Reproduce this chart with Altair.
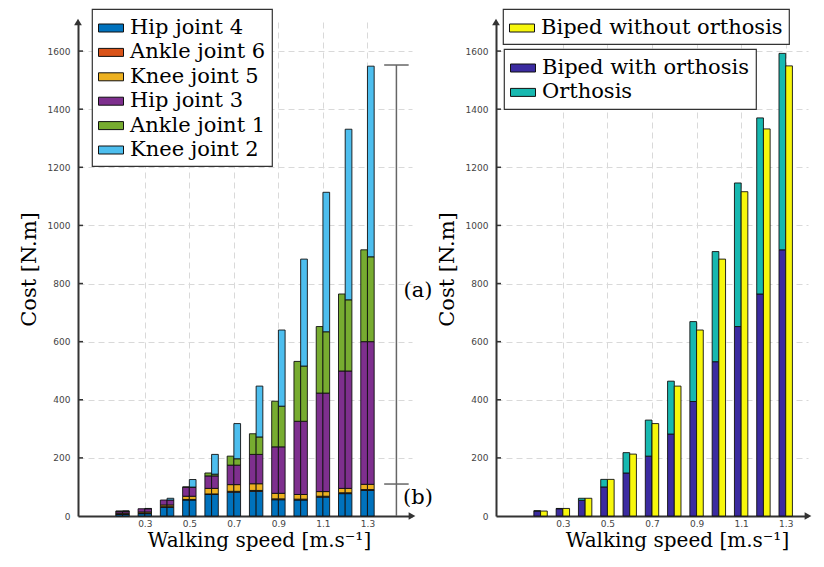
import altair as alt
import pandas as pd

# ---------------- data ----------------
speeds = [0.2, 0.3, 0.4, 0.5, 0.6, 0.7, 0.8, 0.9, 1.0, 1.1, 1.2, 1.3]

joints = ["Hip joint 4", "Ankle joint 6", "Knee joint 5", "Hip joint 3", "Ankle joint 1", "Knee joint 2"]
joint_colors = ["#0072BD", "#D95319", "#EDB120", "#7E2F8E", "#77AC30", "#4DBEEE"]

hip4 = [5, 8, 30, 55, 74, 82, 85, 56, 55, 65, 77, 88]
ankle6 = [2, 2, 2, 2, 2, 3, 3, 3, 3, 3, 3, 3]
knee5 = [3, 4, 6, 11, 19, 23, 23, 19, 16, 16, 15, 18]
hip3 = [6, 11, 17, 31, 43, 67, 101, 160, 252, 339, 404, 491]
# left bar of each pair (biped with orthosis)
ankle1_with = [1, 0, 0, 1, 10, 31, 71, 157, 206, 229, 265, 316]
knee2_with = [0, 0, 0, 0, 0, 0, 0, 0, 0, 0, 0, 0]
# right bar of each pair (biped without orthosis)
ankle1_without = [0.5, 0, 0, 0.5, 6, 22, 60, 140, 190, 211, 245, 292]
knee2_without = [0.5, 1, 6, 26, 68, 121, 175, 262, 368, 480, 587, 656]

parts_right = ["Biped with orthosis", "Orthosis"]
parts_right_colors = ["#3B2BA0", "#17B8B0"]
biped_with = [17, 25, 54, 100, 148, 206, 282, 394, 531, 652, 764, 916]
orthosis = [1, 1, 7, 26, 70, 124, 182, 275, 379, 494, 606, 676]
without_name = "Biped without orthosis"
without_color = "#F7F70C"
biped_without = [17, 26, 61, 126, 213, 318, 447, 640, 884, 1116, 1332, 1549]

x_tick_values = [0.3, 0.5, 0.7, 0.9, 1.1, 1.3]
y_tick_values = [0, 200, 400, 600, 800, 1000, 1200, 1400, 1600]
y_max = 1700

# bracket annotation of the left panel
bracket_x = 1.43
bracket_tick_x = [1.375, 1.485]
bracket_levels = [1552, 110]
bracket_labels = ["(a)", "(b)"]
bracket_label_x = 1.527
bracket_label_y = [774, 62]

SERIF = "DejaVu Serif"
SANS = "DejaVu Sans"
X_TITLE = "Walking speed [m.s\u207b\u00b9]"
Y_TITLE = "Cost [N.m]"
LEG_SYMBOL = "M-1,-0.32H1V0.32H-1Z"

# ---------------- tables ----------------
rows = []
for i, s in enumerate(speeds):
    for bar, a1, k2 in (("with", ankle1_with[i], knee2_with[i]),
                        ("without", ankle1_without[i], knee2_without[i])):
        vals = [hip4[i], ankle6[i], knee5[i], hip3[i], a1, k2]
        for j, (name, v) in enumerate(zip(joints, vals)):
            if v > 0:
                rows.append(dict(speed=s, joint=name, value=v, ord=j, bar=bar))
left_df = pd.DataFrame(rows)

rrows = []
for i, s in enumerate(speeds):
    rrows.append(dict(speed=s, part=parts_right[0], value=biped_with[i], ord=0))
    rrows.append(dict(speed=s, part=parts_right[1], value=orthosis[i], ord=1))
right_df = pd.DataFrame(rrows)
yellow_df = pd.DataFrame(dict(speed=speeds, part2=[without_name] * len(speeds), value=biped_without))


def xenc(field, xmax):
    return alt.X(f"{field}:Q",
                 scale=alt.Scale(domain=[0, xmax], nice=False, zero=False, padding=0),
                 axis=alt.Axis(values=x_tick_values, format=".1f", title=X_TITLE,
                               titleX=181, titleAlign="center", labelPadding=3,
                               titlePadding=2, titleFontSize=20, gridDash=[6, 4]))


def yenc(field, stack=None):
    kw = {}
    if stack is not None:
        kw["stack"] = stack
    return alt.Y(f"{field}:Q",
                 scale=alt.Scale(domain=[0, y_max], nice=False, padding=0),
                 axis=alt.Axis(values=y_tick_values, format="d", title=Y_TITLE, labelPadding=8,
                               titlePadding=8, gridDash=[6, 4]),
                 **kw)


def legend(x, y):
    return alt.Legend(title=None, orient="none", legendX=x, legendY=y, direction="vertical",
                      symbolType=LEG_SYMBOL, symbolSize=625, symbolStrokeColor="#111",
                      symbolStrokeWidth=1, labelFont=SERIF, labelFontSize=21,
                      labelColor="black", labelOffset=6, padding=6, rowPadding=1.4,
                      strokeColor="#333", fillColor="white", labelLimit=500)


def decorations(xmax):
    arrows_y = pd.DataFrame(dict(ax=[0], ay=[y_max]))
    arrows_x = pd.DataFrame(dict(ax=[xmax], ay=[0]))
    up = alt.Chart(arrows_y).mark_point(shape="triangle-up", filled=True, size=60,
                                        color="#333", opacity=1).encode(
        x=xenc("ax", xmax), y=yenc("ay"))
    rt = alt.Chart(arrows_x).mark_point(shape="triangle-right", filled=True, size=60,
                                        color="#333", opacity=1).encode(
        x=xenc("ax", xmax), y=yenc("ay"))
    ticks = alt.Chart(pd.DataFrame(dict(yt=y_tick_values[1:]))).mark_rule(
        color="#333", strokeWidth=1.5).encode(
        y=yenc("yt"), x=alt.value(0), x2=alt.value(5))
    return [ticks, up, rt]


BAR_W = 6.7
bar_style = dict(size=BAR_W, stroke="#111", strokeWidth=0.9)

# ---------------- left panel ----------------
XMAX_L = 1.5
color_left = alt.Color("joint:N", scale=alt.Scale(domain=joints, range=joint_colors),
                       sort=joints, legend=legend(14, -13))

left_with = alt.Chart(left_df).transform_filter(alt.datum.bar == "with").mark_bar(
    xOffset=-BAR_W / 2, **bar_style).encode(
    x=xenc("speed", XMAX_L), y=yenc("value", "zero"), color=color_left,
    order=alt.Order("ord:Q", sort="ascending"))
left_without = alt.Chart(left_df).transform_filter(alt.datum.bar == "without").mark_bar(
    xOffset=BAR_W / 2, **bar_style).encode(
    x=xenc("speed", XMAX_L), y=yenc("value", "zero"), color=color_left,
    order=alt.Order("ord:Q", sort="ascending"))

br_v = alt.Chart(pd.DataFrame(dict(bx=[bracket_x], b0=[0], b1=[bracket_levels[0]]))).mark_rule(
    color="#666", strokeWidth=1.5).encode(x=xenc("bx", XMAX_L), y=yenc("b0"), y2="b1:Q")
br_h = alt.Chart(pd.DataFrame(dict(bxa=[bracket_tick_x[0]] * 2, bxb=[bracket_tick_x[1]] * 2,
                                   by=bracket_levels))).mark_rule(
    color="#666", strokeWidth=1.5).encode(x=xenc("bxa", XMAX_L), x2="bxb:Q", y=yenc("by"))
br_t = alt.Chart(pd.DataFrame(dict(tx=[bracket_label_x] * 2, ty=bracket_label_y,
                                   tl=bracket_labels))).mark_text(
    font=SERIF, fontSize=21, color="black", align="center", baseline="middle").encode(
    x=xenc("tx", XMAX_L), y=yenc("ty"), text="tl:N")

left = alt.layer(left_with, left_without, br_v, br_h, br_t, *decorations(XMAX_L)).properties(
    width=334, height=494)

# ---------------- right panel ----------------
XMAX_R = 1.40
stack_r = alt.Chart(right_df).mark_bar(xOffset=-BAR_W / 2, **bar_style).encode(
    x=xenc("speed", XMAX_R), y=yenc("value", "zero"),
    color=alt.Color("part:N", scale=alt.Scale(domain=parts_right, range=parts_right_colors),
                    sort=parts_right, legend=legend(8, 27)),
    order=alt.Order("ord:Q", sort="ascending"))
yellow_r = alt.Chart(yellow_df).mark_bar(xOffset=BAR_W / 2, **bar_style).encode(
    x=xenc("speed", XMAX_R), y=yenc("value"),
    color=alt.Color("part2:N", scale=alt.Scale(domain=[without_name], range=[without_color]),
                    legend=legend(7, -13)))

right = alt.layer(stack_r, yellow_r, *decorations(XMAX_R)).resolve_scale(
    color="independent").properties(width=312, height=494)

chart = alt.hconcat(left, right, spacing=3).resolve_scale(color="independent").properties(
    padding={"left": 10, "top": 0, "right": 0, "bottom": 3}
).configure_view(stroke=None).configure_axis(
    domainColor="#333", domainWidth=2, gridColor="#d9d9d9", gridWidth=1,
    labelFont=SANS, labelFontSize=9, labelColor="#444", ticks=False,
    titleFont=SERIF, titleFontSize=21, titleFontWeight="normal", titleColor="black"
).configure_legend(strokeWidth=1.2)

chart.save("out.html", embed_options={"renderer": "svg", "actions": False})
